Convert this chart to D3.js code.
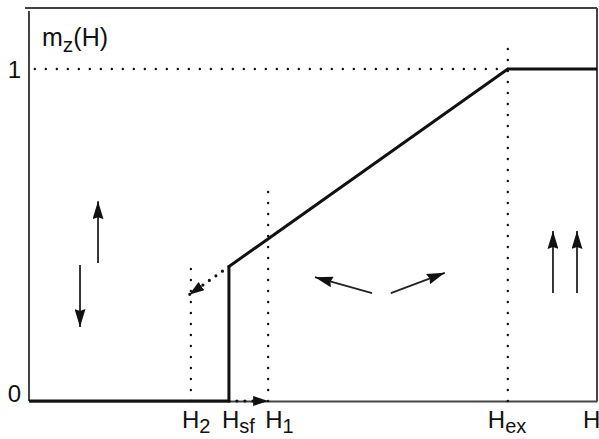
<!DOCTYPE html>
<html><head><meta charset="utf-8">
<script src="https://cdn.jsdelivr.net/npm/d3@7"></script>
<style>
body{margin:0;background:#fff}
svg{display:block}
text{font-family:"Liberation Sans",Arial,Helvetica,sans-serif;fill:#111}
</style>
</head><body>
<svg id="c" width="599" height="439"></svg>
<script>
// ---- data ----
const Hmax = 10;
const markNames = ["H", "H", "H", "H"];
const markSubs = ["2", "sf", "1", "ex"];
const markValues = [2.85, 3.52, 4.21, 8.43];
const yTickValues = [0, 1];
const yTickLabels = ["0", "1"];
// solid magnetisation curve m_z(H)
const curveH = [0, 3.52, 3.52, 8.43, 10];
const curveM = [0, 0, 0.405, 1, 1];
// dotted guide heights (top end) for H2, H1, Hex
const guideH = [2.85, 4.21, 8.43];
const guideTop = [0.43, 0.66, 1.072];
// spin arrows: tail H, tail m, tip H, tip m
const arrowTailH = [1.215, 0.898, 6.04, 6.37, 9.225, 9.648];
const arrowTailM = [0.416, 0.410, 0.325, 0.325, 0.325, 0.325];
const arrowTipH  = [1.215, 0.898, 5.035, 7.32, 9.225, 9.648];
const arrowTipM  = [0.602, 0.223, 0.373, 0.386, 0.512, 0.512];
// dotted transition arrows
const dashArrowFrom = [[3.52, 0.405], [3.52, 0]];
const dashArrowTo   = [[2.82, 0.320], [4.21, 0]];

// ---- layout ----
const L = 29, R = 597, T = 8, B = 401;
const svg = d3.select("#c");
const x = d3.scaleLinear().domain([0, Hmax]).range([L, R]);
const y = d3.scaleLinear().domain([0, 1]).range([B, 69]);

// arrowhead markers
const defs = svg.append("defs");
defs.append("marker").attr("id","ah").attr("viewBox","0 0 18 11")
  .attr("refX",18).attr("refY",5.5).attr("markerWidth",18).attr("markerHeight",11)
  .attr("markerUnits","userSpaceOnUse").attr("orient","auto")
  .append("path").attr("d","M0,0 L18,5.5 L0,11 L2,5.5 Z").attr("fill","#111");
defs.append("marker").attr("id","ah2").attr("viewBox","0 0 15 10")
  .attr("refX",15).attr("refY",5).attr("markerWidth",15).attr("markerHeight",10)
  .attr("markerUnits","userSpaceOnUse").attr("orient","auto")
  .append("path").attr("d","M0,0 L15,5 L0,10 Z").attr("fill","#111");

// frame
const frameC = "#444";
svg.append("line").attr("x1",25).attr("x2",R).attr("y1",T).attr("y2",T).attr("stroke",frameC).attr("stroke-width",2);
svg.append("line").attr("x1",R).attr("x2",R).attr("y1",T).attr("y2",B).attr("stroke",frameC).attr("stroke-width",2);

// axes
const xAxis = svg.append("g").attr("transform",`translate(0,${B})`)
  .call(d3.axisBottom(x).tickValues([]).tickSizeOuter(0));
xAxis.select(".domain").attr("stroke",frameC).attr("stroke-width",2);
const yAxis = svg.append("g").attr("transform",`translate(${L},0)`)
  .call(d3.axisLeft(y).tickValues(yTickValues).tickFormat((d,i)=>yTickLabels[i]).tickSize(0).tickPadding(8).tickSizeOuter(0));
yAxis.select(".domain").attr("stroke",frameC).attr("stroke-width",2).attr("d",`M0,11V${B}`);
yAxis.selectAll("text").attr("font-size",24).style("font-family",'"Liberation Sans",Arial,sans-serif').attr("fill","#111")
  .attr("dy",(d)=> d===0 ? "0em" : "0.36em");

// dotted guides
const dot = g => g.attr("stroke","#111").attr("stroke-width",2.4).attr("stroke-linecap","round").attr("stroke-dasharray","0 11").attr("fill","none");
svg.append("line").attr("x1",x(markValues[3])).attr("x2",x(0)+4).attr("y1",y(1)).attr("y2",y(1)).call(dot);
svg.selectAll(".guide").data(guideH).enter().append("line")
  .attr("x1",d=>x(d)).attr("x2",d=>x(d)).attr("y1",y(0)).attr("y2",(d,i)=>y(guideTop[i])).call(dot);

// main curve
const line = d3.line().x(d=>x(d[0])).y(d=>y(d[1]));
svg.append("path").datum(curveH.map((h,i)=>[h,curveM[i]]))
  .attr("d",line).attr("fill","none").attr("stroke","#111").attr("stroke-width",3).attr("stroke-linejoin","miter");

// dotted transition arrows
dashArrowFrom.forEach((f,i)=>{
  const t = dashArrowTo[i];
  svg.append("line").attr("x1",x(f[0])).attr("y1",y(f[1])).attr("x2",x(t[0])).attr("y2",y(t[1]))
    .attr("stroke","#111").attr("stroke-width",3.2).attr("stroke-linecap","round").attr("stroke-dasharray","0 8")
    .attr("marker-end","url(#ah2)");
});

// spin arrows
svg.selectAll(".spin").data(arrowTailH).enter().append("line")
  .attr("x1",d=>x(d)).attr("y1",(d,i)=>y(arrowTailM[i]))
  .attr("x2",(d,i)=>x(arrowTipH[i])).attr("y2",(d,i)=>y(arrowTipM[i]))
  .attr("stroke","#222").attr("stroke-width",1.8).attr("marker-end","url(#ah)");

// bottom labels
const labelDx = [-9, -7, -3, -20];
const lab = svg.selectAll(".hl").data(markValues).enter().append("text")
  .attr("x",(d,i)=>x(d)+labelDx[i]).attr("y",428).attr("font-size",24);
lab.append("tspan").text((d,i)=>markNames[i]);
lab.append("tspan").attr("dy",5).attr("font-size",20).text((d,i)=>markSubs[i]);
svg.append("text").attr("x",583).attr("y",428).attr("font-size",24).text("H");

// y title
const yt = svg.append("text").attr("x",42).attr("y",46).attr("font-size",25);
yt.append("tspan").text("m");
yt.append("tspan").attr("dy",6).attr("font-size",21).text("z");
yt.append("tspan").attr("dy",-6).text("(H)");
</script>
</body></html>
